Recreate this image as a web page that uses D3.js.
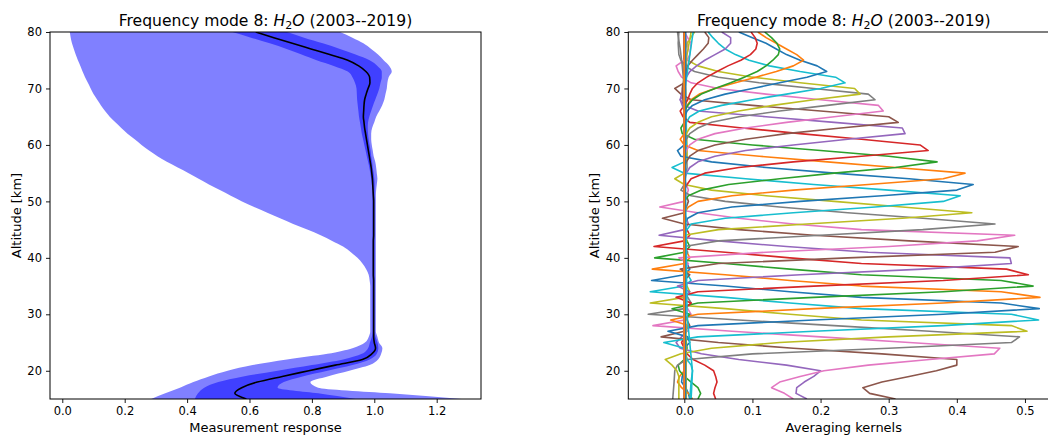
<!DOCTYPE html>
<html>
<head>
<meta charset="utf-8">
<script src="https://cdn.jsdelivr.net/npm/d3@7"></script>
<style>
  body { margin: 0; background: #fff; }
  svg text { font-family: "DejaVu Sans", sans-serif; fill: #000; }
</style>
</head>
<body>
<svg width="1048" height="437"></svg>
<script>
// **** Data ****

var altitude = [15,16,17,18,19,20,21,22,23,24,25,26,27,28,29,30,31,32,33,34,35,36,37,38,39,40,
    41,42,43,44,45,46,47,48,49,50,51,52,53,54,55,56,57,58,59,60,61,62,63,64,65,66,67,68,69,70,
    71,72,73,74,75,76,77,78,79,80];

var meanResponse = [0.590,0.553,0.575,0.625,0.705,0.790,0.875,0.962,0.992,1.004,1.000,0.998,
    0.998,0.998,0.998,0.998,0.998,0.998,0.998,0.998,0.998,0.998,
    0.997,0.997,0.997,0.997,0.997,0.997,0.997,
    0.998,0.998,0.998,0.998,0.998,0.998,0.998,0.997,
    0.996,0.995,0.994,0.992,0.990,0.987,0.984,0.981,0.978,0.975,0.972,0.969,0.967,0.965,0.966,
    0.967,0.969,0.974,0.980,0.986,0.985,0.973,0.950,0.915,0.857,0.797,0.737,0.678,0.620];

var innerLow = [0.425,0.435,0.455,0.500,0.580,0.690,0.800,0.900,0.960,0.980,0.986,0.992,
    0.994,0.994,0.994,0.994,0.994,0.994,0.994,0.994,0.994,0.994,0.994,0.994,0.994,
    0.994,0.994,0.994,0.994,0.994,0.994,0.994,0.994,0.994,0.994,0.994,0.994,0.994,
    0.992,0.990,0.987,0.984,0.980,0.976,0.972,0.968,0.964,0.960,0.957,0.954,0.951,0.949,
    0.947,0.945,0.944,0.943,0.938,0.930,0.915,0.870,0.815,0.767,0.719,0.665,0.605,0.545];

var innerHigh = [0.940,0.820,0.690,0.710,0.770,0.850,0.930,0.985,1.008,1.013,1.010,1.004,
    1.001,1.001,1.001,1.001,1.001,1.001,1.001,1.001,1.001,1.001,1.001,1.001,1.001,
    1.001,1.001,1.001,1.001,1.001,1.001,1.001,1.001,1.001,1.001,1.001,1.001,1.001,
    1.001,1.000,0.998,0.995,0.993,0.990,0.988,0.985,0.982,0.980,0.979,0.980,0.984,0.990,
    0.996,1.003,1.010,1.016,1.020,1.024,1.024,1.010,0.985,0.940,0.890,0.835,0.775,0.720];

var outerLow = [0.285,0.330,0.377,0.420,0.470,0.530,0.610,0.720,0.850,0.930,0.970,0.982,
    0.987,0.987,0.987,0.987,0.987,0.987,0.987,0.987,0.987,0.985,0.982,
    0.974,0.962,0.946,0.925,0.900,0.865,0.828,0.785,0.740,0.698,0.657,0.615,0.576,0.540,
    0.505,0.470,0.437,0.405,0.370,0.335,0.305,0.278,0.254,0.232,0.209,0.189,0.170,0.152,
    0.137,0.124,0.112,0.100,0.091,0.082,0.073,0.065,0.058,0.050,0.043,0.037,0.031,0.027,0.024];

var outerHigh = [1.280,1.050,0.820,0.795,0.850,0.920,0.985,1.012,1.022,1.026,1.015,1.010,
    1.005,1.005,1.005,1.005,1.005,1.005,1.005,1.005,1.005,1.005,1.005,1.005,1.005,
    1.005,1.005,1.005,1.005,1.005,1.005,1.005,1.005,1.005,1.005,1.005,1.005,
    1.006,1.008,1.010,1.008,1.006,1.003,0.998,0.995,0.992,0.990,0.990,0.993,1.000,1.006,
    1.016,1.025,1.032,1.036,1.040,1.042,1.046,1.056,1.048,1.030,1.012,0.990,0.965,0.930,0.890];

// averaging kernels, one list of [altitude, value] vertices per retrieval level (bottom to top)
var kernelPoints = [
  [[15,0.008],[16,0.006],[17,0.002],[18,-0.004],[19,-0.003],[20,0.002],[22,0.003],[26,0.0],[40,0.001],[60,0.0],[80,0.001]],
  [[15,0.012],[16,0.006],[17,-0.004],[18,-0.010],[19,-0.007],[20,0.0],[22,0.004],[24,0.0],[80,0.0]],
  [[15,0.020],[16,0.024],[17,0.020],[18,0.010],[19,0.0],[20,-0.007],[21,-0.009],[22,0.0],[24,0.004],[28,0.0],[80,0.0]],
  [[15,0.046],[16,0.043],[17,0.045],[18,0.048],[19,0.046],[20,0.043],[21,0.030],[22,0.013],[23,0.004],[24,0.0],[25,-0.004],[26,0.0],[27,0.003],[30,0.0],[80,0.0]],
  [[15,0.180],[16,0.164],[17,0.165],[18,0.176],[19,0.190],[20,0.200],[21,0.150],[22,0.080],[23,0.025],[24,-0.006],[25,-0.012],[26,-0.004],[27,0.004],[29,0.0],[80,0.0]],
  [[15,0.310],[16,0.272],[17,0.262],[18,0.290],[19,0.330],[20,0.370],[21,0.400],[22,0.400],[23,0.290],[24,0.160],[25,0.050],[26,-0.034],[27,0.0],[28,0.008],[30,0.0],[80,0.0]],
  [[15,0.160],[16,0.147],[17,0.128],[18,0.140],[19,0.170],[20,0.205],[21,0.270],[22,0.360],[23,0.455],[24,0.463],[25,0.330],[26,0.200],[27,0.070],[28,-0.046],[29,0.0],[30,0.010],[32,0.0],[80,0.0]],
  [[15,-0.017],[18,-0.015],[20,-0.014],[21,-0.010],[22,0.004],[23,0.100],[24,0.300],[25,0.480],[26,0.492],[27,0.360],[28,0.220],[29,0.080],[30,-0.053],[31,0.0],[32,0.010],[34,0.0],[80,0.0]],
  [[15,-0.008],[19,-0.008],[20,-0.011],[21,-0.018],[22,-0.028],[23,-0.005],[24,0.040],[25,0.140],[26,0.300],[27,0.503],[28,0.480],[29,0.260],[30,0.155],[31,0.060],[32,-0.050],[33,0.0],[34,0.008],[36,0.0],[80,0.0]],
  [[15,0.008],[18,0.010],[20,0.012],[21,0.010],[22,0.004],[24,0.0],[25,-0.030],[26,0.020],[27,0.190],[28,0.380],[29,0.520],[30,0.480],[31,0.260],[32,0.155],[33,0.060],[34,-0.050],[35,0.0],[36,0.010],[38,0.0],[80,0.0]],
  [[15,0.0],[24,0.0],[25,0.008],[26,0.005],[27,-0.024],[28,0.020],[29,0.190],[30,0.380],[31,0.521],[32,0.465],[33,0.260],[34,0.155],[35,0.060],[36,-0.048],[37,0.0],[38,0.008],[40,0.0],[80,0.0]],
  [[15,0.0],[27,0.0],[28,0.006],[29,-0.020],[30,0.020],[31,0.190],[32,0.380],[33,0.522],[34,0.465],[35,0.260],[36,0.155],[37,0.060],[38,-0.047],[39,0.0],[40,0.008],[42,0.0],[80,0.0]],
  [[15,0.0],[29,0.0],[30,0.008],[31,-0.018],[32,0.020],[33,0.190],[34,0.380],[35,0.512],[36,0.465],[37,0.260],[38,0.155],[39,0.060],[40,-0.0435],[41,0.0],[42,0.008],[44,0.0],[80,0.0]],
  [[15,0.0],[31,0.0],[32,0.010],[33,-0.012],[34,0.020],[35,0.190],[36,0.380],[37,0.505],[38,0.473],[39,0.260],[40,0.155],[41,0.060],[42,-0.0445],[43,0.0],[44,0.008],[46,0.0],[80,0.0]],
  [[15,0.0],[33,0.0],[34,0.008],[35,-0.010],[36,0.020],[37,0.170],[38,0.350],[39,0.480],[40,0.478],[41,0.270],[42,0.150],[43,0.050],[44,-0.037],[45,0.0],[46,0.006],[48,0.0],[80,0.0]],
  [[15,0.0],[36,0.0],[37,0.008],[38,-0.006],[39,0.050],[40,0.240],[41,0.456],[42,0.490],[43,0.330],[44,0.190],[45,0.080],[46,0.0],[47,-0.032],[48,0.0],[50,0.006],[52,0.0],[80,0.0]],
  [[15,0.0],[38,0.0],[39,0.006],[40,-0.008],[41,0.120],[42,0.300],[43,0.430],[44,0.485],[45,0.260],[46,0.160],[47,0.080],[48,0.020],[49,-0.036],[50,0.0],[52,0.006],[54,0.0],[80,0.0]],
  [[15,0.0],[40,0.0],[41,0.005],[42,0.0],[43,0.050],[44,0.200],[45,0.350],[46,0.456],[47,0.350],[48,0.240],[49,0.140],[50,0.060],[51,0.010],[52,-0.005],[53,0.0],[56,0.004],[80,0.0]],
  [[15,0.0],[42,0.0],[43,0.004],[44,0.0],[45,0.050],[46,0.180],[47,0.320],[48,0.422],[49,0.320],[50,0.220],[51,0.120],[52,0.040],[53,0.0],[54,-0.014],[55,0.0],[58,0.004],[80,0.0]],
  [[15,0.0],[44,0.0],[45,0.004],[46,0.010],[47,0.060],[48,0.160],[49,0.280],[50,0.380],[51,0.405],[52,0.300],[53,0.190],[54,0.090],[55,0.0],[56,-0.018],[57,0.0],[60,0.003],[80,0.0]],
  [[15,0.0],[46,0.0],[47,0.005],[48,0.020],[49,0.070],[50,0.170],[51,0.290],[52,0.400],[53,0.424],[54,0.330],[55,0.220],[56,0.120],[57,0.040],[58,-0.005],[59,-0.010],[60,0.0],[80,0.0]],
  [[15,0.0],[48,0.0],[49,0.006],[50,0.020],[51,0.070],[52,0.160],[53,0.270],[54,0.380],[55,0.412],[56,0.310],[57,0.210],[58,0.110],[59,0.020],[60,0.0],[61,-0.006],[62,0.0],[80,0.0]],
  [[15,0.0],[50,0.0],[51,0.006],[52,0.025],[53,0.065],[54,0.140],[55,0.220],[56,0.310],[57,0.371],[58,0.300],[59,0.200],[60,0.100],[61,0.015],[62,-0.003],[63,-0.005],[64,0.0],[80,0.0]],
  [[15,0.0],[52,0.0],[53,0.004],[54,0.010],[55,0.030],[56,0.080],[57,0.160],[58,0.260],[59,0.358],[60,0.346],[61,0.260],[62,0.170],[63,0.085],[64,0.008],[65,-0.002],[66,-0.006],[67,0.0],[80,0.0]],
  [[15,0.0],[54,0.0],[55,0.003],[56,0.008],[57,0.020],[58,0.045],[59,0.090],[60,0.160],[61,0.240],[62,0.324],[63,0.320],[64,0.220],[65,0.120],[66,0.020],[67,0.0],[68,-0.006],[69,0.0],[80,0.0]],
  [[15,0.0],[56,0.0],[57,0.003],[58,0.008],[59,0.020],[60,0.045],[61,0.090],[62,0.150],[63,0.230],[64,0.314],[65,0.300],[66,0.200],[67,0.100],[68,0.010],[69,-0.005],[70,-0.014],[71,0.0],[73,0.004],[80,0.0]],
  [[15,0.0],[58,0.0],[59,0.003],[60,0.008],[61,0.020],[62,0.045],[63,0.090],[64,0.150],[65,0.220],[66,0.292],[67,0.285],[68,0.200],[69,0.120],[70,0.050],[71,0.010],[72,-0.004],[73,-0.009],[74,-0.012],[75,0.0],[77,0.006],[80,0.0]],
  [[15,0.0],[60,0.0],[61,0.003],[62,0.008],[63,0.020],[64,0.040],[65,0.080],[66,0.140],[67,0.210],[68,0.280],[69,0.270],[70,0.190],[71,0.110],[72,0.050],[73,0.015],[74,0.0],[75,-0.005],[76,-0.008],[78,-0.009],[80,-0.008]],
  [[15,0.0],[61,0.0],[62,0.003],[63,0.008],[64,0.020],[65,0.040],[66,0.080],[67,0.130],[68,0.190],[69,0.258],[70,0.250],[71,0.170],[72,0.100],[73,0.050],[74,0.020],[75,0.005],[76,0.0],[78,0.004],[80,0.015]],
  [[15,0.0],[63,0.0],[64,0.003],[65,0.008],[66,0.022],[67,0.055],[68,0.100],[69,0.150],[70,0.200],[71,0.236],[72,0.222],[73,0.170],[74,0.125],[75,0.095],[76,0.075],[77,0.060],[78,0.050],[79,0.042],[80,0.035]],
  [[15,0.0],[65,0.0],[66,0.004],[67,0.012],[68,0.030],[69,0.060],[70,0.100],[71,0.140],[72,0.180],[73,0.209],[74,0.195],[75,0.170],[76,0.150],[77,0.135],[78,0.120],[79,0.100],[80,0.080]],
  [[15,0.0],[66,0.0],[67,0.004],[68,0.010],[69,0.022],[70,0.045],[71,0.075],[72,0.105],[73,0.135],[74,0.160],[75,0.175],[76,0.165],[77,0.150],[78,0.135],[79,0.120],[80,0.108]],
  [[15,0.0],[66,0.0],[67,0.005],[68,0.012],[69,0.025],[70,0.045],[71,0.068],[72,0.088],[73,0.107],[74,0.120],[75,0.130],[76,0.138],[77,0.140],[78,0.136],[79,0.128],[80,0.118]],
  [[15,0.0],[67,0.0],[68,0.005],[69,0.008],[70,0.012],[71,0.020],[72,0.033],[73,0.048],[74,0.064],[75,0.083],[76,0.097],[77,0.105],[78,0.107],[79,0.104],[80,0.098]],
  [[15,0.0],[66,0.0],[68,-0.006],[70,-0.002],[72,0.003],[73,0.008],[74,0.018],[75,0.030],[76,0.045],[77,0.060],[78,0.068],[79,0.068],[80,0.055]],
  [[15,0.0],[66,0.0],[68,-0.002],[70,-0.003],[72,0.0],[74,0.005],[75,0.012],[76,0.020],[77,0.028],[78,0.035],[79,0.036],[80,0.030]],
  [[15,0.0],[70,0.0],[72,0.002],[74,0.0],[76,0.008],[78,0.010],[80,0.0]],
  [[15,0.0],[70,0.0],[74,-0.003],[77,-0.006],[80,-0.010]],
  [[15,0.003],[30,0.002],[60,0.001],[72,0.0],[76,0.004],[80,0.010]],
  [[15,0.010],[20,0.012],[30,0.004],[50,0.002],[70,0.001],[80,0.013]],
  [[15,0.002],[40,0.001],[80,0.002]],
  [[15,0.0],[80,0.0]]
];

var responseTicks = [0.0, 0.2, 0.4, 0.6, 0.8, 1.0, 1.2];
var kernelTicks = [0.0, 0.1, 0.2, 0.3, 0.4, 0.5];
var altitudeTicks = [20, 30, 40, 50, 60, 70, 80];

// **** Layout and scales ****

var svg = d3.select("svg");
var top_ = 32, bottom = 399;
var fmt = d3.format(".1f");

var altScale = d3.scaleLinear().domain([15, 80]).range([bottom, top_]);
var responseScale = d3.scaleLinear().domain([-0.0394, 1.342]).range([50, 481]);
var kernelScale = d3.scaleLinear().domain([-0.0822, 0.5504]).range([628.3, 1059.3]);

var tab10 = d3.schemeCategory10;

function clip(id, x0, x1) {
    svg.append("clipPath").attr("id", id)
        .append("rect")
        .attr("x", x0).attr("y", top_)
        .attr("width", x1 - x0).attr("height", bottom - top_);
}
clip("clipL", 50, 481);
clip("clipR", 628.3, 1059.3);

// **** Left panel: measurement response ****

var rows = altitude.map(function(a, i) {
    return { alt: a, mean: meanResponse[i], ilo: innerLow[i], ihi: innerHigh[i],
             olo: outerLow[i], ohi: outerHigh[i] };
});

var left = svg.append("g").attr("clip-path", "url(#clipL)");

left.append("path")
    .datum(rows)
    .attr("fill", "#8080ff")
    .attr("d", d3.area()
        .y(function(d) { return altScale(d.alt); })
        .x0(function(d) { return responseScale(d.olo); })
        .x1(function(d) { return responseScale(d.ohi); })
        .curve(d3.curveMonotoneY));

left.append("path")
    .datum(rows)
    .attr("fill", "#4040ff")
    .attr("d", d3.area()
        .y(function(d) { return altScale(d.alt); })
        .x0(function(d) { return responseScale(d.ilo); })
        .x1(function(d) { return responseScale(d.ihi); })
        .curve(d3.curveMonotoneY));

left.append("path")
    .datum(rows)
    .attr("fill", "none")
    .attr("stroke", "#000")
    .attr("stroke-width", 1.6)
    .attr("d", d3.line()
        .y(function(d) { return altScale(d.alt); })
        .x(function(d) { return responseScale(d.mean); })
        .curve(d3.curveMonotoneY));

// **** Right panel: averaging kernels ****

var right = svg.append("g").attr("clip-path", "url(#clipR)");

right.selectAll("path.kernel")
    .data(kernelPoints)
    .enter()
    .append("path")
    .attr("class", "kernel")
    .attr("fill", "none")
    .attr("stroke", function(d, i) { return tab10[i % 10]; })
    .attr("stroke-width", 1.6)
    .attr("stroke-linejoin", "round")
    .attr("d", d3.line()
        .y(function(d) { return altScale(d[0]); })
        .x(function(d) { return kernelScale(d[1]); }));

// **** Axes, frames and labels ****

function styleAxis(g) {
    g.select(".domain").remove();
    g.attr("font-family", "DejaVu Sans").attr("font-size", 11.5);
    g.selectAll(".tick line").attr("stroke", "#000").attr("stroke-width", 0.9);
}

function panel(xScale, ticks, x0, x1, xlabel) {
    svg.append("g")
        .attr("transform", "translate(0," + bottom + ")")
        .call(d3.axisBottom(xScale).tickValues(ticks).tickFormat(fmt)
            .tickSize(4).tickPadding(4).tickSizeOuter(0))
        .call(styleAxis);

    svg.append("g")
        .attr("transform", "translate(" + x0 + ",0)")
        .call(d3.axisLeft(altScale).tickValues(altitudeTicks)
            .tickSize(4).tickPadding(4).tickSizeOuter(0))
        .call(styleAxis);

    svg.append("rect")
        .attr("x", x0).attr("y", top_)
        .attr("width", x1 - x0).attr("height", bottom - top_)
        .attr("fill", "none")
        .attr("stroke", "#000")
        .attr("stroke-width", 1);

    var cx = (x0 + x1) / 2;
    var title = svg.append("text")
        .attr("x", cx).attr("y", 25.5)
        .attr("text-anchor", "middle")
        .style("font-size", "15.6px");
    title.append("tspan").text("Frequency mode 8: ");
    title.append("tspan").style("font-style", "italic").text("H");
    title.append("tspan").attr("dy", 3).style("font-size", "11px").text("2");
    title.append("tspan").attr("dy", -3).style("font-style", "italic").text("O");
    title.append("tspan").text(" (2003--2019)");

    svg.append("text")
        .attr("x", cx).attr("y", 431.5)
        .attr("text-anchor", "middle")
        .style("font-size", "13px")
        .text(xlabel);

    svg.append("text")
        .attr("transform", "translate(" + (x0 - 29) + "," + ((top_ + bottom) / 2) + ") rotate(-90)")
        .attr("text-anchor", "middle")
        .style("font-size", "13px")
        .text("Altitude [km]");
}

panel(responseScale, responseTicks, 50, 481, "Measurement response");
panel(kernelScale, kernelTicks, 628.3, 1059.3, "Averaging kernels");
</script>
</body>
</html>
